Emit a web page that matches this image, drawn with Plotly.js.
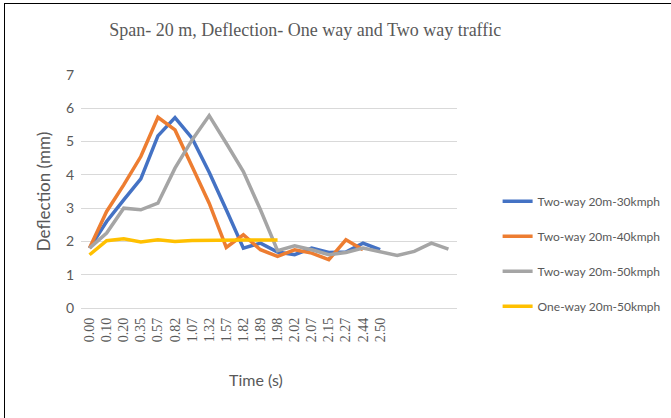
<!DOCTYPE html>
<html>
<head>
<meta charset="utf-8">
<script src="https://cdn.plot.ly/plotly-3.0.1.min.js"></script>
<style>
html,body{margin:0;padding:0;background:#fff;}
#wrap{position:relative;width:671px;height:418px;}
#chart{position:absolute;left:0;top:0;width:671px;height:418px;}
#frame{position:absolute;left:4px;top:3px;width:667px;height:415px;border-left:1.5px solid #000;border-top:1.5px solid #000;pointer-events:none;}
</style>
</head>
<body>
<div id="wrap"><div id="chart"></div><div id="frame"></div></div>
<script>
// Category labels (time, s); the last four categories carry no label
const timeLabels = ["0.00","0.10","0.20","0.35","0.57","0.82","1.07","1.32","1.57","1.82","1.89","1.98","2.02","2.07","2.15","2.27","2.44","2.50","","","",""];
const categoryIndex = [0,1,2,3,4,5,6,7,8,9,10,11,12,13,14,15,16,17,18,19,20,21];

const seriesNames = ["Two-way 20m-30kmph","Two-way 20m-40kmph","Two-way 20m-50kmph","One-way 20m-50kmph"];
const twoWay30 = [1.80,2.60,3.25,3.88,5.17,5.72,5.10,4.08,2.95,1.80,1.95,1.68,1.60,1.80,1.67,1.68,1.95,1.75];
const twoWay40 = [1.80,2.90,3.70,4.55,5.73,5.35,4.25,3.15,1.82,2.20,1.75,1.55,1.75,1.65,1.45,2.05,1.75];
const twoWay50 = [1.80,2.25,3.00,2.95,3.15,4.20,5.05,5.78,4.95,4.10,2.95,1.72,1.87,1.75,1.60,1.67,1.80,1.70,1.58,1.70,1.95,1.77];
const oneWay50 = [1.60,2.02,2.08,1.98,2.05,2.00,2.03,2.04,2.04,2.04,2.04,2.04];

const colors = ["#4472C4","#ED7D31","#A5A5A5","#FFC000"];
const allSeries = [twoWay30, twoWay40, twoWay50, oneWay50];

const traces = allSeries.map((vals, k) => ({
  type: "scatter",
  mode: "lines",
  name: seriesNames[k],
  legendgroup: "g" + k,
  x: categoryIndex.slice(0, vals.length),
  y: vals,
  line: {color: colors[k], width: 3.5},
  hoverinfo: "x+y"
}));

const sans = "Lato, Open Sans, sans-serif";
const serif = "Liberation Serif, Times New Roman, serif";

const layout = {
  width: 671, height: 418,
  paper_bgcolor: "#ffffff", plot_bgcolor: "#ffffff",
  margin: {l: 81, r: 214, t: 75, b: 110, autoexpand: false},
  showlegend: true,
  title: {
    text: "Span- 20 m, Deflection- One way and Two way traffic",
    font: {family: serif, size: 18, color: "#595959"},
    x: 0.455, xref: "container", xanchor: "center",
    y: 0.93, yref: "container", yanchor: "middle"
  },
  xaxis: {
    range: [-0.5, 21.5],
    automargin: false,
    tickmode: "array",
    tickvals: categoryIndex,
    ticktext: timeLabels,
    tickangle: -90,
    ticks: "",
    ticklabelstandoff: 6,
    showgrid: false, zeroline: false, showline: false,
    tickfont: {family: serif, size: 14, color: "#595959"}
  },
  yaxis: {
    range: [0, 7],
    automargin: false,
    dtick: 1,
    tick0: 0,
    ticks: "",
    showgrid: true, gridcolor: "#d9d9d9", gridwidth: 1,
    zeroline: true, zerolinecolor: "#d9d9d9", zerolinewidth: 1,
    showline: false,
    tickfont: {family: sans, size: 14, color: "#595959"},
    ticklabelstandoff: 6,
    title: {text: "Deflection (mm)", font: {family: sans, size: 17, color: "#595959"}, standoff: 10}
  },
  annotations: [{
    text: "Time (s)", showarrow: false,
    xref: "paper", yref: "paper", x: 0.465, y: -0.305,
    xanchor: "center", yanchor: "middle",
    font: {family: sans, size: 16, color: "#595959"}
  }],
  legend: {
    x: 1.108, xanchor: "left",
    y: 0.52, yanchor: "top",
    traceorder: "grouped",
    tracegroupgap: 16,
    font: {family: sans, size: 12, color: "#595959"},
    itemwidth: 30,
    bgcolor: "rgba(0,0,0,0)"
  }
};

Plotly.newPlot("chart", traces, layout, {displayModeBar: false, staticPlot: true});
</script>
</body>
</html>
